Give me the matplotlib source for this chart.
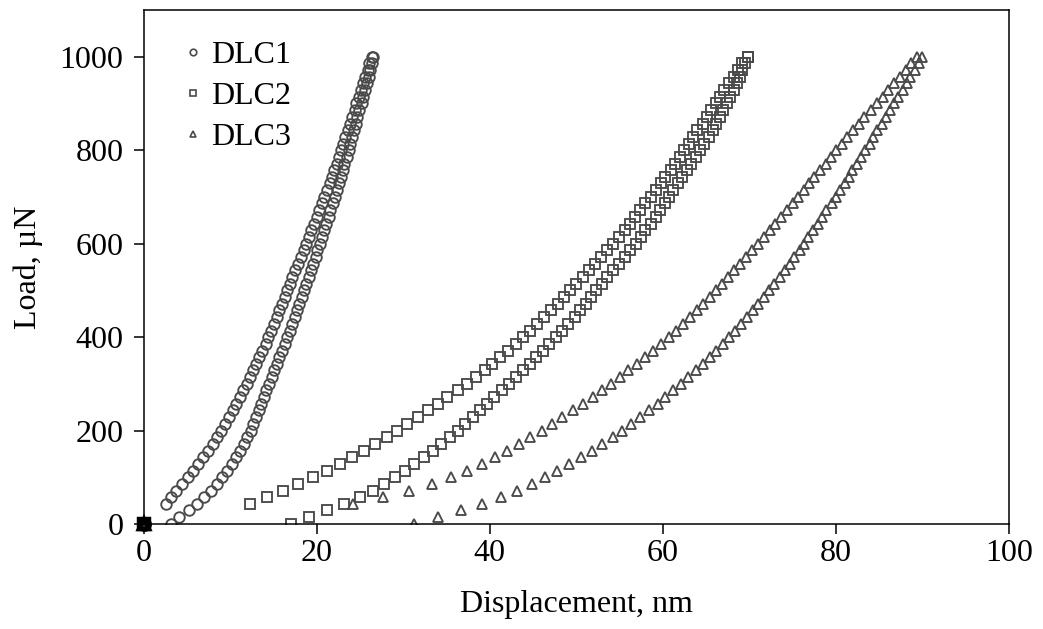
import matplotlib
matplotlib.use("Agg")
import matplotlib.pyplot as plt

plt.rcParams['font.family'] = ['Liberation Serif', 'DejaVu Serif']

# load levels (uN) shared by all the curves
load = [0, 14, 29, 43, 57, 71, 86, 100, 114, 129, 143, 157, 171, 186, 200,
        214, 229, 243, 257, 271, 286, 300, 314, 329, 343, 357, 371, 386, 400,
        414, 429, 443, 457, 471, 486, 500, 514, 529, 543, 557, 571, 586, 600,
        614, 629, 643, 657, 671, 686, 700, 714, 729, 743, 757, 771, 786, 800,
        814, 829, 843, 857, 871, 886, 900, 914, 929, 943, 957, 971, 986, 1000]
# loading curves start after the first contact jump
load_in = load[3:]

# displacement (nm), loading branch
dlc1_in = [2.6, 3.2, 3.8, 4.5, 5.1, 5.7, 6.3, 6.9, 7.4, 8.0, 8.5, 9.0, 9.4,
           9.9, 10.3, 10.7, 11.1, 11.5, 11.9, 12.3, 12.7, 13.0, 13.4, 13.7,
           14.1, 14.4, 14.7, 15.1, 15.4, 15.7, 16.0, 16.3, 16.6, 16.9, 17.2,
           17.5, 17.9, 18.2, 18.5, 18.8, 19.1, 19.4, 19.7, 20.0, 20.3, 20.6,
           20.9, 21.2, 21.5, 21.8, 22.0, 22.3, 22.6, 22.8, 23.1, 23.3, 23.6,
           23.9, 24.1, 24.4, 24.6, 24.9, 25.1, 25.4, 25.6, 25.9, 26.1, 26.4]
dlc2_in = [12.3, 14.3, 16.1, 17.9, 19.6, 21.2, 22.7, 24.1, 25.5, 26.8, 28.1,
           29.3, 30.5, 31.7, 32.9, 34.0, 35.1, 36.3, 37.4, 38.4, 39.4, 40.3,
           41.2, 42.1, 43.0, 43.9, 44.7, 45.5, 46.3, 47.1, 47.9, 48.6, 49.3,
           50.0, 50.8, 51.5, 52.2, 52.9, 53.6, 54.3, 54.9, 55.6, 56.2, 56.8,
           57.4, 58.0, 58.6, 59.2, 59.8, 60.3, 60.9, 61.4, 62.0, 62.5, 63.0,
           63.5, 64.0, 64.6, 65.1, 65.6, 66.1, 66.6, 67.1, 67.6, 68.2, 68.7,
           69.2, 69.8]
dlc3_in = [24.2, 27.7, 30.7, 33.3, 35.5, 37.4, 39.1, 40.6, 42.0, 43.4, 44.7,
           46.0, 47.2, 48.4, 49.6, 50.8, 51.9, 53.0, 54.0, 55.0, 56.0, 57.0,
           58.0, 58.9, 59.8, 60.7, 61.5, 62.3, 63.1, 63.9, 64.6, 65.4, 66.1,
           66.8, 67.5, 68.2, 68.9, 69.6, 70.3, 71.0, 71.7, 72.4, 73.0, 73.7,
           74.3, 75.0, 75.6, 76.3, 76.9, 77.5, 78.2, 78.8, 79.4, 80.0, 80.7,
           81.3, 82.0, 82.7, 83.3, 84.0, 84.7, 85.4, 86.0, 86.7, 87.4, 88.1,
           88.7, 89.4]

# displacement (nm), unloading branch
dlc1_out = [3.2, 4.1, 5.2, 6.2, 7.0, 7.8, 8.5, 9.1, 9.7, 10.2, 10.7, 11.2,
            11.6, 12.0, 12.4, 12.7, 13.0, 13.3, 13.6, 13.9, 14.2, 14.5, 14.8,
            15.1, 15.4, 15.7, 16.0, 16.3, 16.6, 16.9, 17.2, 17.5, 17.7, 18.0,
            18.3, 18.6, 18.8, 19.1, 19.4, 19.6, 19.9, 20.1, 20.4, 20.6, 20.9,
            21.1, 21.4, 21.6, 21.9, 22.1, 22.3, 22.6, 22.8, 23.0, 23.2, 23.5,
            23.7, 23.9, 24.1, 24.3, 24.5, 24.7, 24.9, 25.2, 25.4, 25.6, 25.8,
            26.0, 26.2, 26.4, 26.5]
dlc2_out = [17.0, 19.1, 21.2, 23.2, 25.0, 26.5, 27.8, 29.0, 30.2, 31.3, 32.4,
            33.4, 34.4, 35.4, 36.3, 37.2, 38.1, 38.9, 39.7, 40.5, 41.4, 42.2,
            43.0, 43.8, 44.6, 45.4, 46.2, 46.9, 47.7, 48.4, 49.1, 49.8, 50.4,
            51.1, 51.7, 52.3, 53.0, 53.6, 54.3, 54.9, 55.6, 56.2, 56.9, 57.5,
            58.0, 58.6, 59.2, 59.7, 60.2, 60.7, 61.2, 61.7, 62.2, 62.8, 63.3,
            63.8, 64.3, 64.8, 65.3, 65.8, 66.2, 66.6, 67.0, 67.4, 67.8, 68.2,
            68.6, 68.9, 69.2, 69.5, 69.8]
dlc3_out = [31.2, 34.0, 36.7, 39.1, 41.3, 43.2, 44.9, 46.4, 47.8, 49.2, 50.5,
            51.8, 53.0, 54.2, 55.3, 56.3, 57.4, 58.4, 59.4, 60.3, 61.2, 62.1,
            62.9, 63.8, 64.6, 65.4, 66.2, 66.9, 67.6, 68.3, 69.0, 69.7, 70.4,
            71.0, 71.7, 72.3, 72.9, 73.5, 74.1, 74.7, 75.2, 75.8, 76.3, 76.8,
            77.4, 77.9, 78.4, 78.9, 79.5, 80.0, 80.5, 81.0, 81.5, 81.9, 82.4,
            82.9, 83.4, 83.9, 84.3, 84.8, 85.3, 85.8, 86.2, 86.7, 87.2, 87.7,
            88.2, 88.6, 89.1, 89.6, 90.0]

# every test starts from the origin
origin = [0]

labels = ["DLC1", "DLC2", "DLC3"]
markers = ["o", "s", "^"]
sizes = [7.6, 7.4, 7.4]
x_in = [dlc1_in, dlc2_in, dlc3_in]
x_out = [dlc1_out, dlc2_out, dlc3_out]

edge = "#4a4a4a"

fig = plt.figure(figsize=(10.43, 6.29), dpi=100)
ax = fig.add_axes([0.1376, 0.1669, 0.8298, 0.8172])

for i in range(3):
    ax.plot(x_in[i], load_in, linestyle="none", marker=markers[i], ms=sizes[i],
            mfc="none", mec=edge, mew=1.35, label=labels[i])
    ax.plot(x_out[i], load, linestyle="none", marker=markers[i], ms=sizes[i],
            mfc="none", mec=edge, mew=1.35)

# the origin points pile up into a dark blob
for i in range(3):
    ax.plot(origin, origin, linestyle="none", marker=markers[i], ms=7.5,
            mfc="none", mec="black", mew=3.2, clip_on=False, zorder=5)

ax.set_xlim(0, 100)
ax.set_ylim(0, 1100)
ax.set_xticks([0, 20, 40, 60, 80, 100])
ax.set_yticks([0, 200, 400, 600, 800, 1000])

for s in ax.spines.values():
    s.set_linewidth(1.1)
    s.set_color("black")

ax.tick_params(axis="both", direction="out", length=7.5, width=1.1,
               labelsize=23, top=False, right=False)
ax.tick_params(axis="x", pad=3)
ax.tick_params(axis="y", pad=7)

ax.set_xlabel("Displacement, nm", fontsize=23, labelpad=16)
ax.set_ylabel("Load, \u00b5N", fontsize=23, labelpad=12)

leg = ax.legend(loc="upper left", bbox_to_anchor=(0.026, 0.978), frameon=False,
                fontsize=23, markerscale=0.62, handlelength=0.5,
                handletextpad=0.3, labelspacing=0.37, borderaxespad=0.2)
for h in leg.legend_handles:
    h.set_markeredgewidth(1.2)

fig.savefig("out.png", dpi=100)
